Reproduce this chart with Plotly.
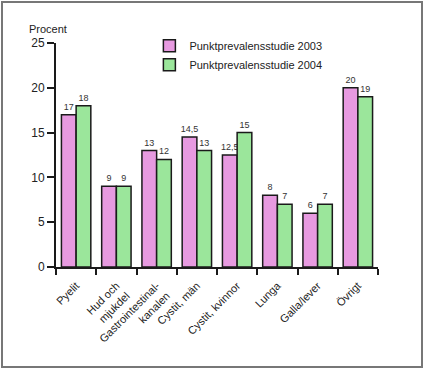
import plotly.graph_objects as go

categories = ["Pyelit", "Hud och<br>mjukdel", "Gastrointestinal-<br>kanalen", "Cystit, män",
              "Cystit, kvinnor", "Lunga", "Galla/lever", "Övrigt"]
values_2003 = [17, 9, 13, 14.5, 12.5, 8, 6, 20]
values_2004 = [18, 9, 12, 13, 15, 7, 7, 19]
series_names = ["Punktprevalensstudie 2003", "Punktprevalensstudie 2004"]
y_ticks = [0, 5, 10, 15, 20, 25]

FONT = "Liberation Sans, Arial, sans-serif"

fig = go.Figure()
for name, vals, col in [(series_names[0], values_2003, "#E79AE0"),
                        (series_names[1], values_2004, "#9BE69B")]:
    fig.add_trace(go.Bar(
        x=categories, y=vals, name=name,
        marker=dict(color=col, line=dict(color="#1a1a1a", width=1.5)),
        texttemplate="%{y}", textposition="outside", constraintext="none",
        textfont=dict(size=9, color="#333", family=FONT),
        cliponaxis=False,
    ))

fig.update_layout(
    width=425, height=371,
    margin=dict(l=56, r=47, t=43, b=104),
    paper_bgcolor="white", plot_bgcolor="white",
    barmode="group", bargap=0.27, bargroupgap=0,
    separators=", ",
    font=dict(family=FONT, size=11, color="#222"),
    showlegend=True,
    legend=dict(x=0.29, y=1.052, xanchor="left", yanchor="top",
                font=dict(size=11, family=FONT, color="#222"),
                bgcolor="rgba(0,0,0,0)", itemwidth=30, tracegroupgap=0),
    xaxis=dict(showline=True, linecolor="#1a1a1a", linewidth=2,
               ticks="outside", tickson="boundaries", ticklen=6, tickwidth=2,
               tickcolor="#1a1a1a", tickangle=-45, ticklabelstandoff=6,
               tickfont=dict(size=11, family=FONT, color="#222")),
    yaxis=dict(range=[0, 25], tickvals=y_ticks, showline=True, linecolor="#1a1a1a",
               linewidth=2, ticks="outside", ticklen=7, tickwidth=2,
               tickcolor="#1a1a1a", showgrid=False, zeroline=False,
               tickfont=dict(size=12, family=FONT, color="#222")),
    annotations=[dict(text="Procent", xref="paper", yref="paper", x=-0.09,
                      y=(267 - 37) / 224,
                      xanchor="left", yanchor="bottom", showarrow=False,
                      font=dict(size=11, family=FONT, color="#222"))],
    shapes=[dict(type="rect", xref="paper", yref="paper",
                 x0=(2 - 56) / 322, x1=(422 - 56) / 322,
                 y0=-(367 - 267) / 224, y1=(267 - 2) / 224,
                 line=dict(color="#777", width=2))],
)

fig.write_html("out.html", config={"displayModeBar": False},
               post_script="document.body.style.margin='0';document.body.style.overflow='hidden';")
